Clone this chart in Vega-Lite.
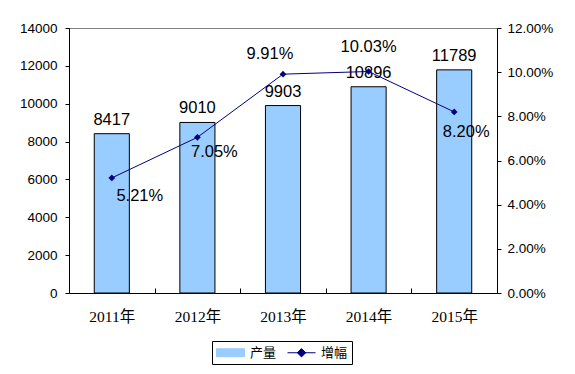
{
  "$schema": "https://vega.github.io/schema/vega-lite/v6.json",
  "width": 428,
  "height": 265,
  "autosize": {"type": "none"},
  "padding": {"left": 69, "top": 28, "right": 78, "bottom": 81},
  "background": "white",
  "config": {
    "view": {"stroke": "#808080", "strokeWidth": 1},
    "axis": {"labelFont": "Liberation Sans", "labelColor": "black", "labelFontSize": 13.5, "domainColor": "black", "tickColor": "black", "grid": false, "title": null},
    "text": {"font": "Liberation Sans", "fontSize": 16.5, "fill": "black"}
  },
  "data": {"values": [
    {"year": "2011年", "output": 8417, "growth": 0.0521},
    {"year": "2012年", "output": 9010, "growth": 0.0705},
    {"year": "2013年", "output": 9903, "growth": 0.0991},
    {"year": "2014年", "output": 10896, "growth": 0.1003},
    {"year": "2015年", "output": 11789, "growth": 0.082}
  ]},
  "encoding": {
    "x": {"field": "year", "type": "nominal", "sort": null,
      "scale": {"paddingInner": 0, "paddingOuter": 0},
      "axis": {"labelAngle": 0, "tickBand": "extent", "tickSize": -5, "labelPadding": 21, "labelFont": "Liberation Serif, Noto Sans CJK SC", "labelFontSize": 15.5, "labelBaseline": "top"}}
  },
  "layer": [
    {
      "encoding": {
        "y": {"field": "output", "type": "quantitative",
          "scale": {"domain": [0, 14000], "nice": false},
          "axis": {"orient": "left", "values": [0, 2000, 4000, 6000, 8000, 10000, 12000, 14000], "tickSize": 4, "labelPadding": 8, "format": "d"}}
      },
      "layer": [
        {
          "mark": {"type": "bar", "stroke": "black", "strokeWidth": 1, "width": {"band": 0.41}},
          "encoding": {
            "color": {"datum": "产量", "type": "nominal",
              "scale": {"domain": ["产量", "增幅"], "range": ["#99CCFF", "#000080"]},
              "legend": {"orient": "none", "legendX": 143, "legendY": 313, "direction": "horizontal", "title": null,
                "strokeColor": "black", "padding": 4, "symbolSize": 196, "labelFont": "Noto Sans CJK SC", "labelFontSize": 13, "labelColor": "black",
                "columnPadding": 8, "labelOffset": 19,
                "symbolType": {"expr": "datum.value === '产量' ? 'M-1,-0.57H3V0.57H-1Z' : 'M-1,0H3M1,-0.6L1.6,0L1,0.6L0.4,0Z'"},
                "symbolStrokeColor": {"expr": "datum.value === '产量' ? 'black' : '#000080'"},
                "symbolFillColor": {"expr": "datum.value === '产量' ? '#99CCFF' : '#000080'"},
                "symbolStrokeWidth": 1,
                "symbolOpacity": 1
              }
            }
          }
        },
        {
          "mark": {"type": "text", "baseline": "bottom", "dy": -6},
          "encoding": {"text": {"field": "output", "type": "quantitative", "format": "d"}}
        }
      ]
    },
    {
      "encoding": {
        "y": {"field": "growth", "type": "quantitative",
          "scale": {"domain": [0, 0.12], "nice": false},
          "axis": {"orient": "right", "values": [0, 0.02, 0.04, 0.06, 0.08, 0.1, 0.12], "format": ".2%", "tickSize": 4, "labelPadding": 6}}
      },
      "layer": [
        {
          "mark": {"type": "line", "strokeWidth": 1},
          "encoding": {"color": {"datum": "增幅", "type": "nominal"}}
        },
        {
          "mark": {"type": "point", "shape": "diamond", "filled": true, "size": 45, "opacity": 1},
          "encoding": {"color": {"datum": "增幅", "type": "nominal"}}
        },
        {
          "transform": [{"filter": "datum.year === '2011年'"}],
          "mark": {"type": "text", "baseline": "middle", "dx": 28, "dy": 18},
          "encoding": {"text": {"field": "growth", "type": "quantitative", "format": ".2%"}}
        },
        {
          "transform": [{"filter": "datum.year === '2012年'"}],
          "mark": {"type": "text", "baseline": "middle", "dx": 17, "dy": 15},
          "encoding": {"text": {"field": "growth", "type": "quantitative", "format": ".2%"}}
        },
        {
          "transform": [{"filter": "datum.year === '2013年'"}],
          "mark": {"type": "text", "baseline": "middle", "dx": -13, "dy": -20},
          "encoding": {"text": {"field": "growth", "type": "quantitative", "format": ".2%"}}
        },
        {
          "transform": [{"filter": "datum.year === '2014年'"}],
          "mark": {"type": "text", "baseline": "middle", "dx": 0, "dy": -25},
          "encoding": {"text": {"field": "growth", "type": "quantitative", "format": ".2%"}}
        },
        {
          "transform": [{"filter": "datum.year === '2015年'"}],
          "mark": {"type": "text", "baseline": "middle", "dx": 12, "dy": 20},
          "encoding": {"text": {"field": "growth", "type": "quantitative", "format": ".2%"}}
        }
      ]
    }
  ],
  "resolve": {"scale": {"y": "independent"}}
}
